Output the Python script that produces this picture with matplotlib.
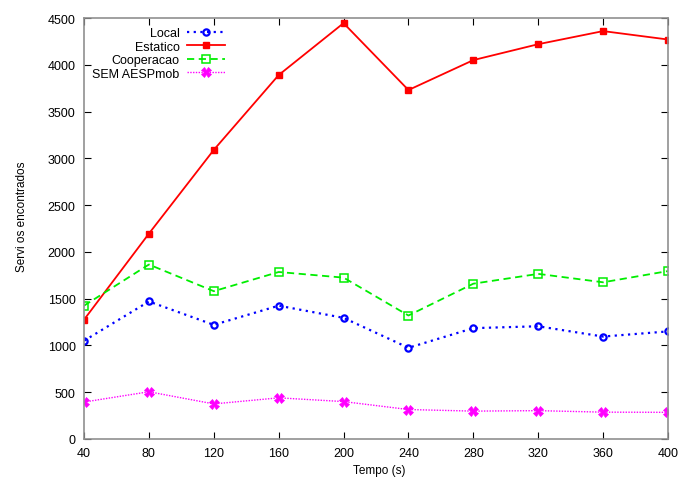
import matplotlib
matplotlib.use("Agg")
import matplotlib.pyplot as plt

plt.rcParams['font.family'] = ['Liberation Sans', 'DejaVu Sans']

tempo = [40, 80, 120, 160, 200, 240, 280, 320, 360, 400]
local = [1050, 1470, 1220, 1425, 1295, 975, 1185, 1205, 1095, 1150]
estatico = [1275, 2195, 3090, 3890, 4445, 3730, 4050, 4220, 4360, 4270]
cooperacao = [1425, 1865, 1580, 1785, 1725, 1320, 1660, 1765, 1675, 1795]
sem_aespmob = [395, 505, 375, 440, 400, 315, 298, 303, 287, 285]

xticks = [40, 80, 120, 160, 200, 240, 280, 320, 360, 400]
yticks = [0, 500, 1000, 1500, 2000, 2500, 3000, 3500, 4000, 4500]

fig = plt.figure(figsize=(6.78, 4.81), dpi=100)
ax = fig.add_axes([84/678, 41/481, 584/678, 421/481])

ax.plot(tempo, local, color='#0000ff', linestyle=(0, (1, 2)), linewidth=1.6,
        marker='o', markersize=4.5, markerfacecolor='none', markeredgewidth=1.6,
        label='Local')
ax.plot(tempo, estatico, color='#ff0000', linestyle='-', linewidth=1.3,
        marker='s', markersize=5, markeredgewidth=1,
        label='Estatico')
ax.plot(tempo, cooperacao, color='#00ee00', linestyle=(0, (4, 2.5)), linewidth=1.3,
        marker='s', markersize=6, markerfacecolor='none', markeredgewidth=1.1,
        label='Cooperacao')
ax.plot(tempo, sem_aespmob, color='#ff00ff', linestyle=(0, (1, 1)), linewidth=1.0,
        marker='X', markersize=6.5, markeredgewidth=0.5,
        label='SEM AESPmob')

ax.set_xlim(40, 400)
ax.set_ylim(0, 4500)
ax.set_xticks(xticks)
ax.set_yticks(yticks)
ax.tick_params(direction='in', length=5, width=0.8, top=True, right=True,
               labelsize=9, colors='black', pad=6)
for s in ax.spines.values():
    s.set_color('#909090')
    s.set_linewidth(1.2)

ax.set_xlabel('Tempo (s)', fontsize=8.5)
ax.set_ylabel('Servi os encontrados', fontsize=8.5)
ax.xaxis.set_label_coords(0.505, -0.059)
ax.yaxis.set_label_coords(-0.096, 0.53)

leg = ax.legend(loc='upper right', bbox_to_anchor=(226/678, (481-27)/481),
                bbox_transform=fig.transFigure, markerfirst=False,
                frameon=False, fontsize=9, handlelength=3.0, labelspacing=0.12,
                handletextpad=0.6, borderaxespad=0.0, borderpad=0.1)
for t in leg.get_texts():
    t.set_ha('right')
leg._legend_box.align = 'right'

fig.savefig('out.png', dpi=100)
